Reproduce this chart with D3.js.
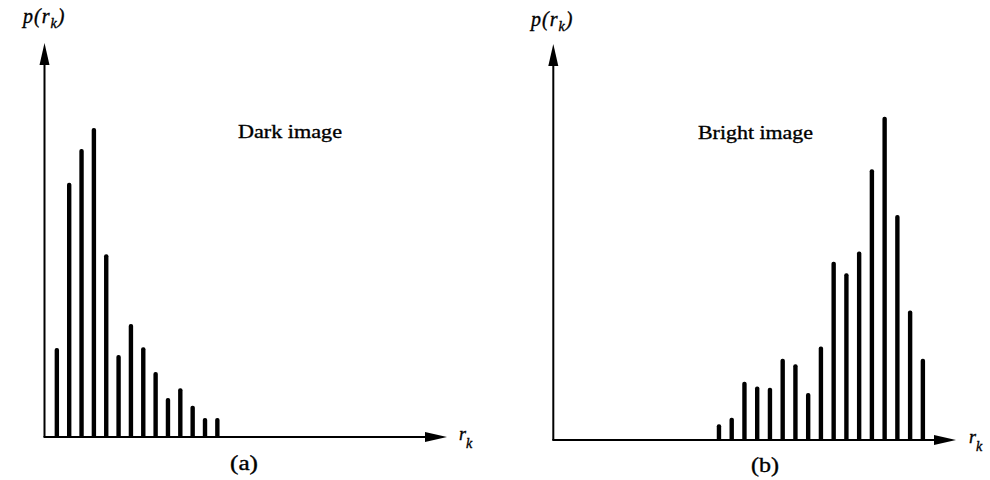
<!DOCTYPE html>
<html lang="en">
<head>
  <meta charset="UTF-8" />
  <title>Dark and bright image histograms</title>
  <script src="https://d3js.org/d3.v7.min.js"></script>
  <style>
    html, body { margin: 0; padding: 0; background: #fff; }
    svg { display: block; }
    text { font-family: 'Liberation Serif', 'Times New Roman', serif; fill: #000; stroke: #000; stroke-width: 0.35; }
    .axis-line { stroke: #000; stroke-width: 2; fill: none; }
    .arrow { fill: #000; }
    .bar { fill: #000; }
  </style>
</head>
<body>
  <svg id="chart" width="990" height="480"></svg>
  <script>
    // gray levels r_k (bin index) and relative p(r_k)
    const darkLevels = [1, 2, 3, 4, 5, 6, 7, 8, 9, 10, 11, 12, 13, 14];
    const darkValues = [22.6, 64.5, 73.1, 78.4, 46.4, 20.8, 28.7, 22.8, 16.5, 9.9, 12.4, 7.9, 4.8, 4.8];

    const brightLevels = [13, 14, 15, 16, 17, 18, 19, 20, 21, 22, 23, 24, 25, 26, 27, 28, 29];
    const brightValues = [4.0, 5.6, 14.7, 13.5, 13.2, 20.5, 19.1, 11.9, 23.6, 45.0, 42.1, 47.6, 68.4, 81.6, 56.8, 32.7, 20.5];

    const panels = [
      { levels: darkLevels, values: darkValues, title: "Dark image", caption: "(a)",
        x0: 44.5, x1: 447, y0: 437, y1: 43, xMax: 32.6,
        titleX: 238, titleY: 138, titleW: 104, capX: 230, capY: 470, pX: 23, pY: 23, rX: 459, rY: 440 },
      { levels: brightLevels, values: brightValues, title: "Bright image", caption: "(b)",
        x0: 553.3, x1: 956, y0: 440, y1: 44, xMax: 31.6,
        titleX: 698, titleY: 139, titleW: 115, capX: 751, capY: 472, pX: 531, pY: 26, rX: 969, rY: 443 }
    ];

    const svg = d3.select("#chart");

    panels.forEach(p => {
      const x = d3.scaleLinear().domain([0, p.xMax]).range([p.x0, p.x1]);
      const y = d3.scaleLinear().domain([0, 100]).range([p.y0, p.y1]);
      const g = svg.append("g");

      // bars
      g.selectAll(".bar")
        .data(p.levels.map((l, i) => ({ level: l, value: p.values[i] })))
        .join("rect")
        .attr("class", "bar")
        .attr("x", d => x(d.level) - 2.2)
        .attr("width", 4.4)
        .attr("y", d => y(d.value))
        .attr("height", d => y(0) - y(d.value) + 1)
        .attr("rx", 2);

      // axes
      const arrowLen = 22, arrowHalf = 5;
      g.append("line").attr("class", "axis-line")
        .attr("x1", x(0)).attr("y1", y(0))
        .attr("x2", x(0)).attr("y2", y(100) + arrowLen - 2);
      g.append("line").attr("class", "axis-line")
        .attr("x1", x(0) - 1).attr("y1", y(0))
        .attr("x2", x(p.xMax) - arrowLen + 2).attr("y2", y(0));

      g.append("path").attr("class", "arrow")
        .attr("d", `M${x(0)},${y(100)} L${x(0) + arrowHalf},${y(100) + arrowLen} L${x(0) - arrowHalf},${y(100) + arrowLen} Z`);
      g.append("path").attr("class", "arrow")
        .attr("d", `M${x(p.xMax)},${y(0)} L${x(p.xMax) - arrowLen},${y(0) - arrowHalf} L${x(p.xMax) - arrowLen},${y(0) + arrowHalf} Z`);

      // y label p(r_k)
      const pl = g.append("text")
        .attr("x", p.pX).attr("y", p.pY)
        .style("font-size", "20px").style("font-style", "italic")
        .style("letter-spacing", "1px");
      pl.append("tspan").text("p(r");
      pl.append("tspan").attr("dy", 5).style("font-size", "14px").text("k");
      pl.append("tspan").attr("dy", -5).text(")");

      // x label r_k
      const rl = g.append("text")
        .attr("x", p.rX).attr("y", p.rY)
        .style("font-size", "18px").style("font-style", "italic");
      rl.append("tspan").text("r");
      rl.append("tspan").attr("dy", 8).style("font-size", "14px").text("k");

      g.append("text")
        .attr("x", p.titleX).attr("y", p.titleY)
        .attr("textLength", p.titleW).attr("lengthAdjust", "spacingAndGlyphs")
        .style("font-size", "19px")
        .text(p.title);

      g.append("text")
        .attr("x", p.capX).attr("y", p.capY)
        .attr("textLength", 28).attr("lengthAdjust", "spacingAndGlyphs")
        .style("font-size", "20px")
        .text(p.caption);
    });
  </script>
</body>
</html>
